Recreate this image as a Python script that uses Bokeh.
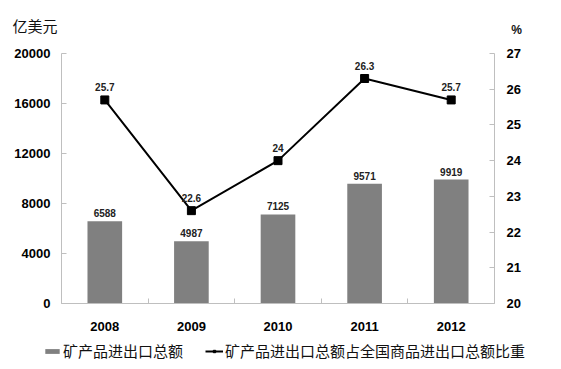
from bokeh.plotting import figure
from bokeh.layouts import column
from bokeh.models import (Range1d, LinearAxis, FixedTicker, Legend, LegendItem,
                          ColumnDataSource)
from bokeh.embed import file_html
from bokeh.resources import INLINE
from bokeh.core.properties import value

years = ["2008", "2009", "2010", "2011", "2012"]
totals = [6588, 4987, 7125, 9571, 9919]
shares = [25.7, 22.6, 24, 26.3, 25.7]
share_labels = ["25.7", "22.6", "24", "26.3", "25.7"]
left_ticks = [0, 4000, 8000, 12000, 16000, 20000]
right_ticks = [20, 21, 22, 23, 24, 25, 26, 27]
bar_name = "矿产品进出口总额"
line_name = "矿产品进出口总额占全国商品进出口总额比重"
left_unit = "亿美元"
right_unit = "%"

W = 561
idx = list(range(len(years)))
src = ColumnDataSource(dict(x=idx, total=totals, share=shares,
                            tlab=[str(t) for t in totals], slab=share_labels))

NUMF = "Liberation Sans"
CJKF = "Noto Sans CJK SC"
NUM = value(NUMF)
CJK = value(CJKF)
AXC = "#bfbfbf"
BAR = "#808080"


def blank(h, xr, yr):
    f = figure(width=W, height=h, output_backend="svg", toolbar_location=None,
               x_range=xr, y_range=yr, frame_align=False,
               min_border=0, outline_line_color=None,
               x_axis_type=None, y_axis_type=None)
    f.grid.visible = False
    return f


# ---- header with unit captions
HH = 40
head = blank(HH, Range1d(0, W), Range1d(0, HH))
head.text(x=[12], y=[HH - 25], text=[left_unit], text_font=CJK,
          text_font_size="15px", text_baseline="middle", text_align="left",
          text_color="#111111")
head.text(x=[516], y=[HH - 29], text=[right_unit], text_font=NUM,
          text_font_size="12px", text_font_style="bold",
          text_baseline="middle", text_align="center", text_color="#111111")

# ---- main chart
p = figure(width=W, height=295, output_backend="svg", toolbar_location=None,
           x_range=Range1d(-0.5, len(years) - 0.5),
           y_range=Range1d(left_ticks[0], left_ticks[-1]), frame_align=False,
           min_border_left=61, min_border_right=67, min_border_top=13,
           min_border_bottom=32, outline_line_color=None,
           background_fill_color="white", border_fill_color="white")
p.grid.visible = False
p.extra_y_ranges = {"pct": Range1d(right_ticks[0], right_ticks[-1])}

xa = p.xaxis[0]
xa.ticker = FixedTicker(ticks=idx,
                        minor_ticks=[i - 0.5 for i in idx] + [idx[-1] + 0.5])
xa.major_label_overrides = {i: y for i, y in zip(idx, years)}
xa.major_tick_line_color = None
xa.minor_tick_in = 5
xa.minor_tick_out = 0
xa.minor_tick_line_color = AXC
xa.axis_line_color = AXC
xa.major_label_standoff = 12
xa.major_label_text_font = NUMF
xa.major_label_text_font_style = "bold"
xa.major_label_text_font_size = "13px"
xa.major_label_text_color = "black"

ya = p.yaxis[0]
ya.ticker = FixedTicker(ticks=left_ticks)
ya.major_tick_in = 5
ya.major_tick_out = 0
ya.minor_tick_line_color = None
ya.major_tick_line_color = AXC
ya.axis_line_color = AXC
ya.major_label_standoff = 11
ya.major_label_text_font = NUMF
ya.major_label_text_font_style = "bold"
ya.major_label_text_font_size = "13px"
ya.major_label_text_color = "black"

ra = LinearAxis(y_range_name="pct", ticker=FixedTicker(ticks=right_ticks))
ra.major_tick_in = 5
ra.major_tick_out = 0
ra.minor_tick_line_color = None
ra.major_tick_line_color = AXC
ra.axis_line_color = AXC
ra.major_label_standoff = 12
ra.major_label_text_font = NUMF
ra.major_label_text_font_style = "bold"
ra.major_label_text_font_size = "13px"
ra.major_label_text_color = "black"
p.add_layout(ra, "right")

p.vbar(x="x", top="total", width=0.4, source=src,
       fill_color=BAR, line_color=None)
p.text(x="x", y="total", text="tlab", source=src, text_align="center",
       text_baseline="bottom", y_offset=-4, text_font=NUM,
       text_font_style="bold", text_font_size="10px", text_color="#222222")

p.line(x="x", y="share", source=src, y_range_name="pct",
       line_color="black", line_width=2)
p.scatter(x="x", y="share", source=src, y_range_name="pct",
          marker="square", size=8, fill_color="black", line_color="black")
p.text(x="x", y="share", text="slab", source=src, y_range_name="pct",
       text_align="center", text_baseline="bottom", y_offset=-9,
       text_font=NUM, text_font_style="bold", text_font_size="10px",
       text_color="#222222")

# ---- legend strip: proxy renderers of the same data, kept out of view
LH = 34
leg = blank(LH, Range1d(-20, -10), Range1d(-20, -10))
lb = leg.vbar(x="x", top="total", width=0.4, source=src,
              fill_color=BAR, line_color=None)
ll = leg.line(x="x", y="share", source=src, line_color="black", line_width=2)
lm = leg.scatter(x="x", y="share", source=src, marker="square", size=8,
                 fill_color="black", line_color="black")
legend = Legend(items=[LegendItem(label=bar_name, renderers=[lb]),
                       LegendItem(label=line_name, renderers=[ll, lm])],
                orientation="horizontal", location=(43, 8),
                glyph_width=18, glyph_height=6, label_standoff=2, spacing=22,
                padding=0, margin=0, border_line_color=None,
                background_fill_alpha=0,
                label_text_font=CJKF, label_text_font_size="15px",
                label_text_color="#111111")
leg.add_layout(legend, "center")

layout = column(head, p, leg, spacing=0)
open("out.html", "w").write(file_html(layout, INLINE))
